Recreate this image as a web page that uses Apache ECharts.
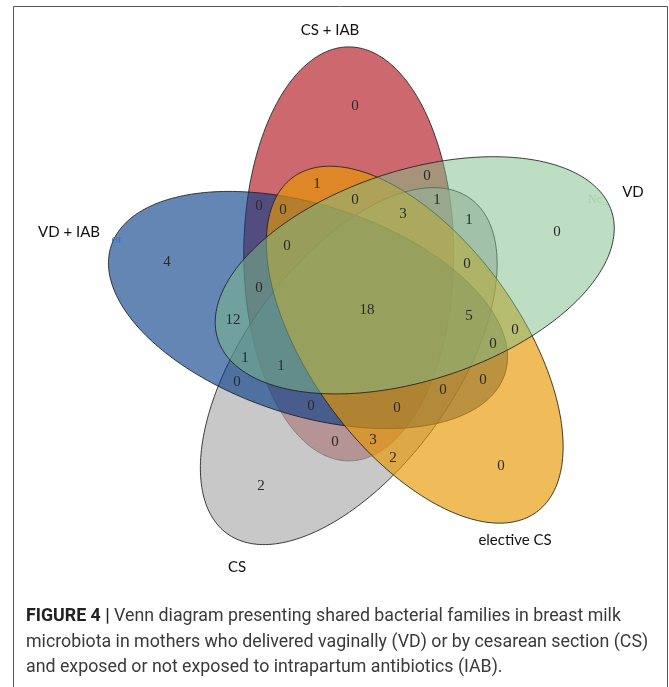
<!DOCTYPE html>
<html><head><meta charset="utf-8">
<script src="https://cdn.jsdelivr.net/npm/echarts@6/dist/echarts.min.js"></script>
<style>html,body{margin:0;padding:0;background:#fff}#chart{width:669px;height:687px}</style>
</head><body><div id="chart"></div>
<script>
// ---------- data ----------
const setNames = ['CS + IAB', 'VD', 'elective CS', 'CS', 'VD + IAB'];
// region membership codes (digits = set indices) and their counts
const regionSets = ['0','1','2','3','4',
  '01','02','03','04','12','13','14','23','24','34',
  '012','013','014','023','024','034','123','124','134','234',
  '0123','0124','0134','0234','1234','01234'];
const regionCounts = [0,0,0,2,4,
  0,1,0,0,0,1,12,2,0,0,
  0,1,0,3,0,0,0,0,1,0,
  3,0,1,0,5,18];

// ---------- layout / style ----------
const GEO = { ringR: 59, semiA: 207, semiB: 105, startAngle: -108, step: 72, tilt: 18 };
const drawOrder = [0, 3, 4, 2, 1];
const fillColors = ['rgba(178,24,32,0.65)', 'rgba(125,189,135,0.5)', 'rgba(232,152,1,0.65)',
                    'rgba(171,171,171,0.65)', 'rgba(5,60,135,0.62)'];
const strokeColor = 'rgba(30,30,30,0.85)';

const rad = d => d * Math.PI / 180;
const ellipses = setNames.map((n, k) => {
  const phi = rad(GEO.startAngle + GEO.step * k);
  return { cx: GEO.ringR * Math.cos(phi), cy: GEO.ringR * Math.sin(phi), psi: phi + rad(GEO.tilt) };
});

function localF(e, x, y) {
  const dx = x - e.cx, dy = y - e.cy;
  const c = Math.cos(e.psi), s = Math.sin(e.psi);
  const u = dx * c + dy * s, v = -dx * s + dy * c;
  const A = GEO.semiA, B = GEO.semiB;
  const f = Math.sqrt(u * u / (A * A) + v * v / (B * B));
  const g = Math.sqrt((u / (A * A)) ** 2 + (v / (B * B)) ** 2) / Math.max(f, 1e-9);
  return { inside: f < 1, dist: Math.abs(f - 1) / Math.max(g, 1e-9) };
}

// label anchor of each region: point of the region farthest from any outline
const best = {};
for (let x = -262; x <= 262; x += 2) {
  for (let y = -272; y <= 262; y += 2) {
    let code = '', dmin = Infinity;
    ellipses.forEach((e, k) => {
      const r = localF(e, x, y);
      if (r.inside) code += k;
      dmin = Math.min(dmin, r.dist);
    });
    if (!code) continue;
    if (!best[code] || dmin > best[code].d) best[code] = { x, y, d: dmin };
  }
}
const labelData = regionSets.map((c, i) => best[c] ? [best[c].x, best[c].y, regionCounts[i]] : null).filter(Boolean);

const chart = echarts.init(document.getElementById('chart'), null, { renderer: 'canvas' });
const serifFont = '"Liberation Serif", "DejaVu Serif", serif';
const labelFont = 'Lato, "Open Sans", sans-serif';
const capFont = 'Roboto, "Liberation Sans", sans-serif';
const txt = (x, y, text, font, fill) => ({ type: 'text', x, y, z: 20,
  style: { text, font, fill, align: 'center', verticalAlign: 'middle' } });

chart.setOption({
  animation: false,
  grid: { left: 0, right: 0, top: 0, bottom: 0 },
  xAxis: { type: 'value', min: -367, max: 302, show: false },
  yAxis: { type: 'value', min: -310, max: 377, inverse: true, show: false },
  series: [
    {
      type: 'custom', silent: true, clip: false,
      data: drawOrder.map(k => [k, 0, 0]),
      encode: { x: 1, y: 2 },
      renderItem: (params, api) => {
        const k = api.value(0), e = ellipses[k];
        const pts = [];
        for (let i = 0; i < 240; i++) {
          const t = i / 240 * 2 * Math.PI;
          const u = GEO.semiA * Math.cos(t), v = GEO.semiB * Math.sin(t);
          pts.push(api.coord([e.cx + u * Math.cos(e.psi) - v * Math.sin(e.psi),
                              e.cy + u * Math.sin(e.psi) + v * Math.cos(e.psi)]));
        }
        return { type: 'polygon', shape: { points: pts },
                 style: { fill: fillColors[k], stroke: strokeColor, lineWidth: 1 } };
      }
    },
    {
      type: 'custom', silent: true, clip: false, z: 5,
      data: labelData,
      encode: { x: 0, y: 1 },
      renderItem: (params, api) => {
        const p = api.coord([api.value(0), api.value(1)]);
        return { type: 'text', x: p[0], y: p[1],
                 style: { text: String(api.value(2)), fill: '#2a2a2a', font: '15px ' + serifFont,
                          align: 'center', verticalAlign: 'middle', textAlign: 'center', textVerticalAlign: 'middle' } };
      }
    }
  ],
  graphic: [
    { type: 'rect', shape: { x: 13.5, y: 6.5, width: 654, height: 690 }, style: { fill: 'none', stroke: '#555', lineWidth: 1 }, z: 0 },
    txt(330, 30, setNames[0], '15px ' + labelFont, '#111'),
    txt(633, 192, setNames[1], '15px ' + labelFont, '#111'),
    txt(515, 540, setNames[2], '15px ' + labelFont, '#111'),
    txt(237, 567, setNames[3], '15px ' + labelFont, '#111'),
    txt(69, 232, setNames[4], '15px ' + labelFont, '#111'),
    txt(117, 240, 'or', '13px ' + serifFont, 'rgba(60,115,190,0.95)'),
    txt(598, 200, 'Nc_', '12px ' + serifFont, 'rgba(150,215,160,0.9)'),
    { type: 'text', left: 26, top: 604, z: 20, style: {
        text: '{b|FIGURE 4 |} Venn diagram presenting shared bacterial families in breast milk\nmicrobiota in mothers who delivered vaginally (VD) or by cesarean section (CS)\nand exposed or not exposed to intrapartum antibiotics (IAB).',
        font: '17.8px ' + capFont, fill: '#3a3a3a', lineHeight: 25.5,
        rich: { b: { font: 'bold 17.8px ' + capFont, fill: '#222', lineHeight: 25.5 } } } }
  ]
});
</script></body></html>
